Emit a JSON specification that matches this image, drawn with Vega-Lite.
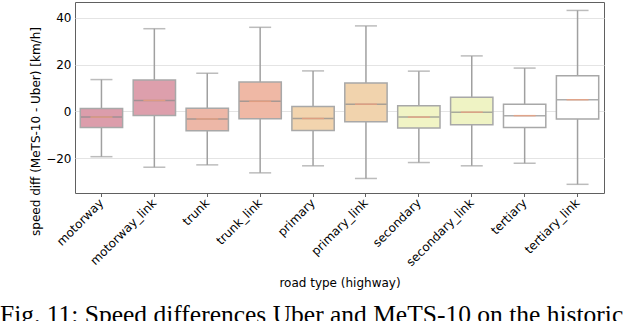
{
  "$schema": "https://vega.github.io/schema/vega-lite/v6.json",
  "width": 529,
  "height": 191,
  "autosize": {"type": "none"},
  "padding": {"left": 75, "top": 2, "right": 36, "bottom": 128},
  "background": "white",
  "config": {
    "view": {"stroke": "#606060", "strokeWidth": 1},
    "font": "DejaVu Sans"
  },
  "title": {
    "text": "Fig. 11: Speed differences Uber and MeTS-10 on the historic",
    "orient": "bottom",
    "anchor": "start",
    "frame": "group",
    "font": "Liberation Serif",
    "fontSize": 25.5,
    "fontWeight": "normal",
    "color": "black",
    "baseline": "alphabetic",
    "dx": -75,
    "offset": 35
  },
  "data": {
    "values": [
      {"road": "motorway", "lower": -19.3, "q1": -6.8, "median": -2.4, "q3": 1.3, "upper": 13.6},
      {"road": "motorway_link", "lower": -23.8, "q1": -1.7, "median": 4.7, "q3": 13.4, "upper": 35.3},
      {"road": "trunk", "lower": -22.8, "q1": -8.2, "median": -3.2, "q3": 1.4, "upper": 16.3},
      {"road": "trunk_link", "lower": -26.2, "q1": -3.1, "median": 4.3, "q3": 12.6, "upper": 35.9},
      {"road": "primary", "lower": -23.2, "q1": -8.1, "median": -3.0, "q3": 2.1, "upper": 17.3},
      {"road": "primary_link", "lower": -28.6, "q1": -4.4, "median": 3.1, "q3": 12.1, "upper": 36.5},
      {"road": "secondary", "lower": -21.8, "q1": -7.1, "median": -2.4, "q3": 2.4, "upper": 17.2},
      {"road": "secondary_link", "lower": -23.2, "q1": -5.7, "median": -0.3, "q3": 6.1, "upper": 23.7},
      {"road": "tertiary", "lower": -22.1, "q1": -6.9, "median": -1.8, "q3": 3.1, "upper": 18.5},
      {"road": "tertiary_link", "lower": -31.1, "q1": -3.2, "median": 5.0, "q3": 15.2, "upper": 43.1}
    ]
  },
  "encoding": {
    "x": {
      "field": "road",
      "type": "nominal",
      "sort": null,
      "scale": {"paddingInner": 0, "paddingOuter": 0},
      "axis": {
        "title": "road type (highway)",
        "titleFont": "DejaVu Sans",
        "titleFontSize": 12,
        "titleFontWeight": "normal",
        "titleColor": "black",
        "titleBaseline": "alphabetic",
        "titleY": 93,
        "labelAngle": -45,
        "labelAlign": "right",
        "labelBaseline": "middle",
        "labelFont": "DejaVu Sans",
        "labelFontSize": 12,
        "labelColor": "black",
        "labelPadding": 4,
        "tickSize": 3.5,
        "tickColor": "#606060",
        "domain": false,
        "grid": false,
        "encoding": {
          "labels": {
            "update": {
              "dx": {"signal": "0.25*[60.3,87.5,31.8,59.0,47.0,74.2,62.2,89.4,44.4,71.6][indexof(['motorway','motorway_link','trunk','trunk_link','primary','primary_link','secondary','secondary_link','tertiary','tertiary_link'], datum.label)]"},
              "dy": {"signal": "0.25*[60.3,87.5,31.8,59.0,47.0,74.2,62.2,89.4,44.4,71.6][indexof(['motorway','motorway_link','trunk','trunk_link','primary','primary_link','secondary','secondary_link','tertiary','tertiary_link'], datum.label)]"}
            }
          }
        }
      }
    }
  },
  "layer": [
    {
      "mark": {"type": "rule", "color": "#a0a0a0", "strokeWidth": 1.5},
      "encoding": {
        "y": {
          "field": "lower",
          "type": "quantitative",
          "scale": {"domain": [-34.8, 46.7], "nice": false, "zero": false},
          "axis": {
            "title": "speed diff (MeTS-10 - Uber) [km/h]",
            "titleFont": "DejaVu Sans",
            "titleFontSize": 12,
            "titleFontWeight": "normal",
            "titleColor": "black",
            "titleX": -33,
            "titleY": 129,
            "values": [-20, 0, 20, 40],
            "grid": true,
            "gridColor": "#e4e4e4",
            "gridWidth": 1,
            "domain": false,
            "ticks": false,
            "labelFont": "DejaVu Sans",
            "labelFontSize": 12,
            "labelColor": "black",
            "labelPadding": 4
          }
        },
        "y2": {"field": "upper"}
      }
    },
    {
      "mark": {"type": "tick", "color": "#a0a0a0", "thickness": 1.5, "size": 22},
      "encoding": {"y": {"field": "lower", "type": "quantitative"}}
    },
    {
      "mark": {"type": "tick", "color": "#a0a0a0", "thickness": 1.5, "size": 22},
      "encoding": {"y": {"field": "upper", "type": "quantitative"}}
    },
    {
      "mark": {"type": "bar", "width": {"band": 0.8}, "stroke": "#a8a8a8", "strokeWidth": 1.5, "opacity": 1},
      "encoding": {
        "y": {"field": "q1", "type": "quantitative"},
        "y2": {"field": "q3"},
        "fill": {
          "field": "road",
          "type": "nominal",
          "legend": null,
          "scale": {
            "domain": ["motorway", "motorway_link", "trunk", "trunk_link", "primary", "primary_link", "secondary", "secondary_link", "tertiary", "tertiary_link"],
            "range": ["#dc9dab", "#dd9fac", "#edb7a7", "#efb8a5", "#f2d4ae", "#f1d3ad", "#f1f4c5", "#eff3c4", "#ffffff", "#ffffff"]
          }
        }
      }
    },
    {
      "mark": {"type": "tick", "color": "#8a8a8a", "thickness": 1.5, "size": 41},
      "encoding": {"y": {"field": "median", "type": "quantitative"}}
    },
    {
      "mark": {"type": "tick", "color": "#f5a07a", "thickness": 1.5, "size": 22},
      "encoding": {"y": {"field": "median", "type": "quantitative"}}
    }
  ]
}
